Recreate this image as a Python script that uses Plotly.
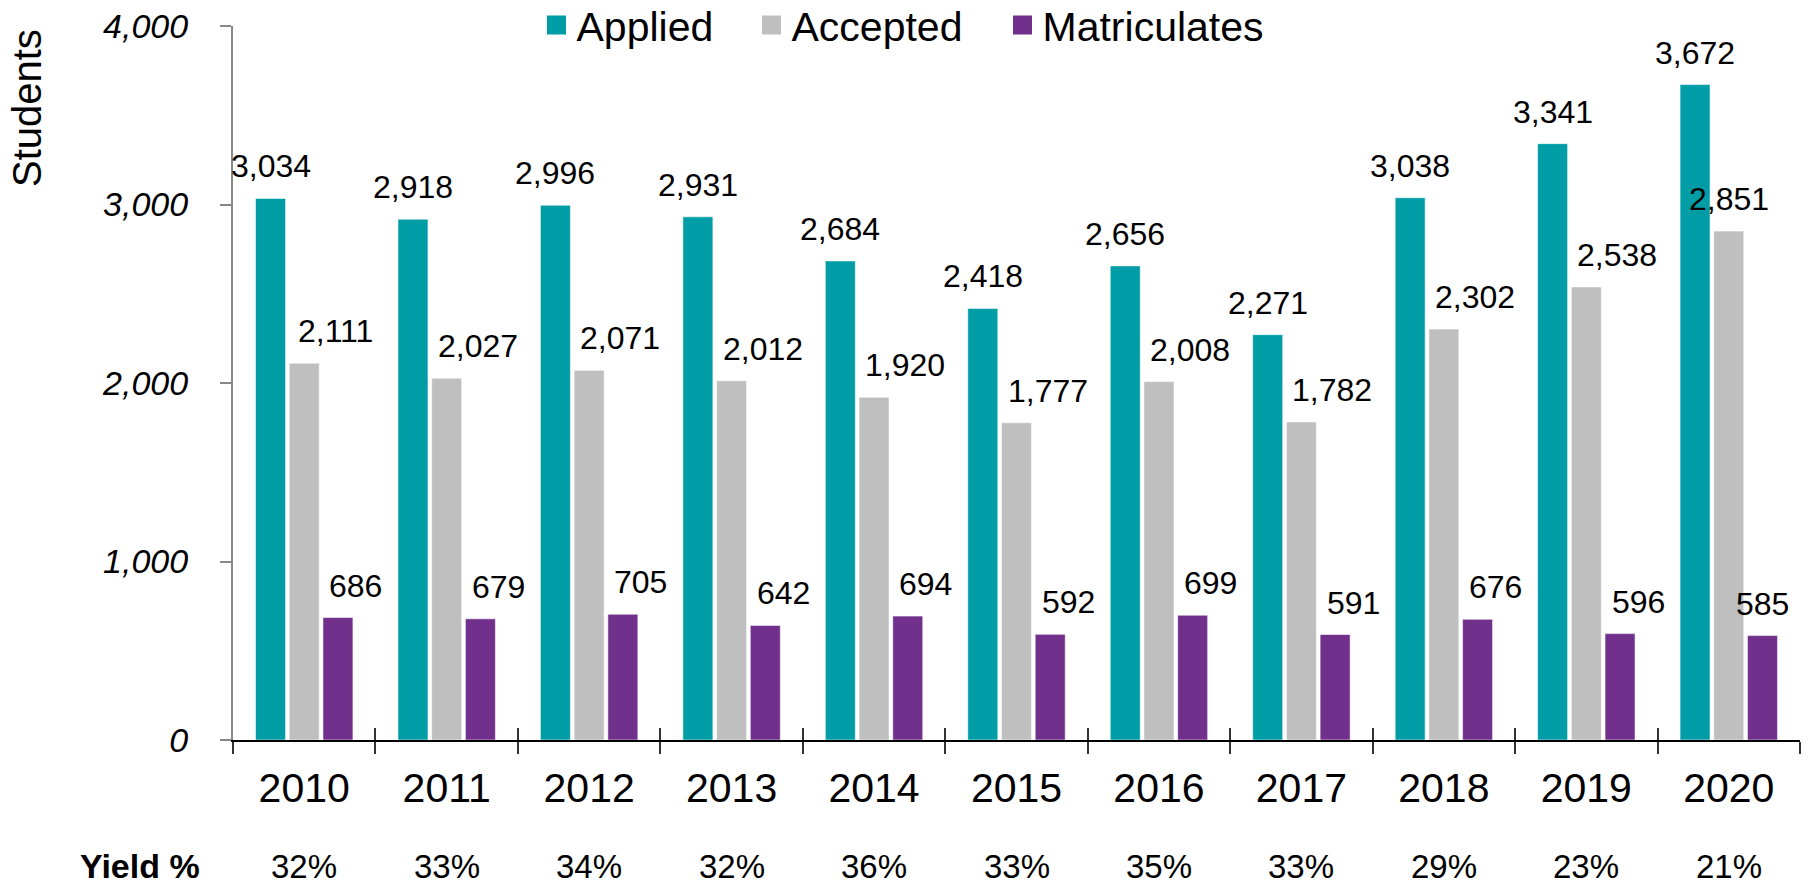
import plotly.graph_objects as go

years = ['2010', '2011', '2012', '2013', '2014', '2015', '2016', '2017', '2018', '2019', '2020']
applied = [3034, 2918, 2996, 2931, 2684, 2418, 2656, 2271, 3038, 3341, 3672]
accepted = [2111, 2027, 2071, 2012, 1920, 1777, 2008, 1782, 2302, 2538, 2851]
matriculates = [686, 679, 705, 642, 694, 592, 699, 591, 676, 596, 585]
yield_pct = ['32%', '33%', '34%', '32%', '36%', '33%', '35%', '33%', '29%', '23%', '21%']
y_ticks = [0, 1000, 2000, 3000, 4000]

# name, values, colour, label x-shift (px), legend entry width (px)
series = [
    ('Applied', applied, '#009DA7', 0, 170),
    ('Accepted', accepted, '#BFBFBF', 31, 206),
    ('Matriculates', matriculates, '#71308B', 18, 240),
]

BARGAP = 0.29
BARGROUPGAP = 0.11
FONT = 'Liberation Sans, Arial, sans-serif'
YIELD_Y = -0.1765

fig = go.Figure()
for name, vals, color, _, _ in series:
    fig.add_trace(go.Bar(
        x=years, y=vals, name=name, showlegend=False,
        marker=dict(color=color, line=dict(color='rgba(255,255,255,0.55)', width=1)),
    ))
# legend-only entries (square swatches)
for name, vals, color, _, lw in series:
    fig.add_trace(go.Scatter(
        x=[None], y=[None], name=name, mode='markers', legendwidth=lw,
        marker=dict(symbol='square', size=16, color=color, line=dict(color=color, width=3)),
    ))

n = len(years)
slot = (1 - BARGAP) / len(series)
annotations = []
for k, (name, vals, color, xs, _) in enumerate(series):
    off = (k - (len(series) - 1) / 2) * slot
    for i, v in enumerate(vals):
        annotations.append(dict(
            x=i + off, y=v, xref='x2', yref='y', text=f'{v:,}', showarrow=False,
            xanchor='center', yanchor='bottom', xshift=xs if i < n - 1 else 0, yshift=12,
            font=dict(size=32, color='black', family=FONT),
        ))

for i, p in enumerate(yield_pct):
    annotations.append(dict(
        x=i, y=YIELD_Y, xref='x2', yref='paper', text=p, showarrow=False,
        xanchor='center', yanchor='middle', font=dict(size=33, color='black', family=FONT),
    ))
annotations.append(dict(
    x=(139.5 - 233) / 1567, y=YIELD_Y, xref='paper', yref='paper', text='<b>Yield %</b>',
    showarrow=False, xanchor='center', yanchor='middle',
    font=dict(size=34, color='black', family=FONT),
))
annotations.append(dict(
    x=-0.1315, y=0.885, xref='paper', yref='paper', text='Students', showarrow=False,
    textangle=-90, xanchor='center', yanchor='middle', font=dict(size=40, color='black', family=FONT),
))

bounds = [i - 0.5 for i in range(n + 1)]

fig.update_layout(
    width=1810, height=888,
    margin=dict(l=233, r=10, t=26, b=148, pad=0, autoexpand=False),
    barmode='group', bargap=BARGAP, bargroupgap=BARGROUPGAP,
    plot_bgcolor='white', paper_bgcolor='white',
    font=dict(family=FONT, color='black'),
    legend=dict(orientation='h', x=0.1937, xanchor='left', y=1.001, yanchor='middle',
                font=dict(size=41, family=FONT), bgcolor='rgba(0,0,0,0)'),
    xaxis=dict(type='category', tickson='boundaries', ticks='outside', ticklen=12,
               tickcolor='#333', tickwidth=1.5, showline=True, linecolor='black', linewidth=1.5,
               tickfont=dict(size=41, family=FONT), ticklabelstandoff=11,
               showgrid=False, range=[-0.5, n - 0.5], automargin=False),
    xaxis2=dict(overlaying='x', anchor='y', side='bottom', range=[-0.5, n - 0.5],
                tickvals=bounds, ticks='inside', ticklen=12, tickcolor='#333', tickwidth=1.5,
                showticklabels=False, showline=False, showgrid=False, zeroline=False,
                automargin=False),
    yaxis=dict(range=[0, 4000], tickvals=y_ticks, tickformat=',d', ticks='outside', ticklen=11,
               tickcolor='#888', tickwidth=1.5, showline=True, linecolor='#888', linewidth=2,
               tickfont=dict(family=FONT, size=34, style='italic', color='black'),
               ticklabelstandoff=25, showgrid=False, zeroline=False, automargin=False),
    yaxis2=dict(overlaying='y', anchor='x', side='left', range=[0, 4000], tickvals=y_ticks,
                ticks='inside', ticklen=12, tickcolor='#888', tickwidth=1.5,
                showticklabels=False, showgrid=False, zeroline=False, showline=False,
                automargin=False),
    annotations=annotations,
)

fig.write_html(
    'out.html',
    config={'displayModeBar': False},
    post_script="document.body.style.margin='0';document.body.style.overflow='hidden';",
)
